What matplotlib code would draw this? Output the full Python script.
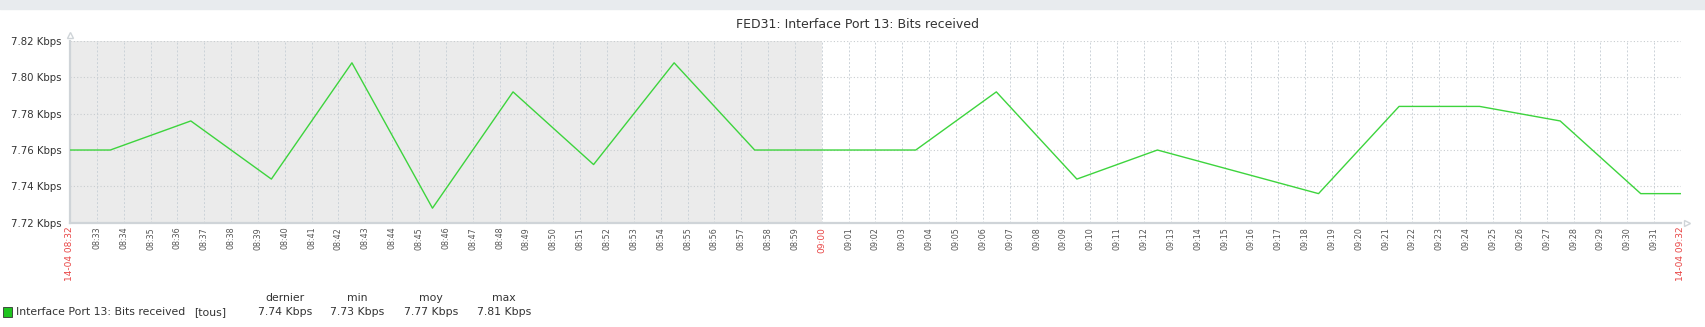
import matplotlib.pyplot as plt
from matplotlib.patches import Rectangle

# minutes after 14-04 08:32
minutes = [0, 1.5, 4.5, 7.5, 10.5, 13.5, 16.5, 19.5, 22.5, 25.5, 31.5,
           34.5, 37.5, 40.5, 46.5, 49.5, 52.5, 55.5, 58.5, 60]
kbps = [7.76, 7.76, 7.776, 7.744, 7.808, 7.728, 7.792, 7.752, 7.808, 7.76, 7.76,
        7.792, 7.744, 7.76, 7.736, 7.784, 7.784, 7.776, 7.736, 7.736]

y_ticks = [7.72, 7.74, 7.76, 7.78, 7.80, 7.82]
tick_labels = ['%02d:%02d' % ((8 * 60 + 32 + m) // 60, (8 * 60 + 32 + m) % 60) for m in range(61)]
tick_labels[0] = '14-04 08:32'
tick_labels[60] = '14-04 09:32'
red_ticks = [0, 28, 60]
shade_end = 28

legend_name = 'Interface Port 13: Bits received'
legend_cols = ['dernier', 'min', 'moy', 'max']
legend_vals = ['7.74 Kbps', '7.73 Kbps', '7.77 Kbps', '7.81 Kbps']

W, H = 1706, 327
fig = plt.figure(figsize=(W / 100, H / 100), dpi=100)
fig.patches.append(Rectangle((0, 1 - 9 / H), 1, 9 / H, transform=fig.transFigure,
                             color='#e8ebee', zorder=0))

ax = fig.add_axes([70 / W, 1 - 222.7 / H, (1681 - 70) / W, (222.7 - 41) / H])
ax.set_xlim(0, 60)
ax.set_ylim(7.72, 7.82)
ax.axvspan(0, shade_end, color='#ebebeb', zorder=0, lw=0)

for m in range(61):
    ax.axvline(m, color='#cbd2d8', lw=0.7, ls=(0, (2, 2)), zorder=1)
for v in y_ticks:
    ax.axhline(v, color='#c8cccf', lw=0.8, ls=(0, (1, 2)), zorder=1)

ax.plot(minutes, kbps, color='#3dd43d', lw=1.0, zorder=3)

for s in ['top', 'right']:
    ax.spines[s].set_visible(False)
for s in ['left', 'bottom']:
    ax.spines[s].set_color('#cfd4d8')
    ax.spines[s].set_linewidth(1.6)

ax.set_yticks(y_ticks)
ax.set_yticklabels(['%.2f Kbps' % v for v in y_ticks], fontsize=7.3, color='#333333')
ax.set_xticks(range(61))
ax.set_xticklabels(tick_labels, rotation=90, fontsize=5.8, color='#555555')
for i in red_ticks:
    lab = ax.get_xticklabels()[i]
    lab.set_color('#e84545')
    lab.set_fontsize(6.5)
ax.tick_params(length=0)
ax.tick_params(axis='y', pad=6)
ax.tick_params(axis='x', pad=3)

# arrows at axis ends
ax.plot([0], [1.0 + 6 / 182], marker='^', ms=4, mfc='white', mec='#cfd4d8',
        transform=ax.transAxes, clip_on=False)
ax.plot([1.0 + 6 / 1611], [0], marker='>', ms=4, mfc='white', mec='#cfd4d8',
        transform=ax.transAxes, clip_on=False)

fig.text(858 / W, 1 - 25 / H, 'FED31: Interface Port 13: Bits received',
         ha='center', va='center', fontsize=9, color='#333333')

# legend
fig.patches.append(Rectangle((3 / W, 1 - 317 / H), 9 / W, 10 / H, transform=fig.transFigure,
                             facecolor='#1fc41f', edgecolor='#333333', lw=0.6))
fig.text(16 / W, 1 - 312 / H, legend_name, ha='left', va='center', fontsize=7.8, color='#333333')
fig.text(210 / W, 1 - 312 / H, '[tous]', ha='center', va='center', fontsize=7.8, color='#333333')
for cx, c, v in zip([285, 357, 431, 504], legend_cols, legend_vals):
    fig.text(cx / W, 1 - 298 / H, c, ha='center', va='center', fontsize=7.8, color='#333333')
    fig.text(cx / W, 1 - 312 / H, v, ha='center', va='center', fontsize=7.8, color='#333333')

fig.savefig('out.png', dpi=100)
